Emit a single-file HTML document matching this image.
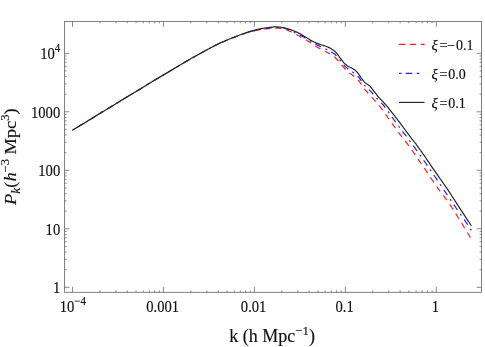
<!DOCTYPE html>
<html><head><meta charset="utf-8"><title>Power spectrum</title>
<style>
html,body{margin:0;padding:0;background:#fff;}
body{width:485px;height:347px;overflow:hidden;font-family:"Liberation Serif",serif;}
text{stroke:#111;stroke-width:0.16px;}
svg{display:block;will-change:transform;font-family:"Liberation Serif",serif;}
</style></head><body>
<svg width="485" height="347" viewBox="0 0 485 347">
<rect width="485" height="347" fill="#fff"/>
<rect x="64.6" y="21.4" width="416.9" height="270.90000000000003" fill="none" stroke="#6a6a6a" stroke-width="0.85"/>
<path d="M72.50 292.30 v-5.40 M72.50 21.40 v5.40 M99.88 292.30 v-1.90 M99.88 21.40 v1.90 M115.89 292.30 v-1.90 M115.89 21.40 v1.90 M127.26 292.30 v-1.90 M127.26 21.40 v1.90 M136.07 292.30 v-1.90 M136.07 21.40 v1.90 M143.27 292.30 v-1.90 M143.27 21.40 v1.90 M149.36 292.30 v-1.90 M149.36 21.40 v1.90 M154.64 292.30 v-1.90 M154.64 21.40 v1.90 M159.29 292.30 v-1.90 M159.29 21.40 v1.90 M163.45 292.30 v-5.40 M163.45 21.40 v5.40 M190.83 292.30 v-1.90 M190.83 21.40 v1.90 M206.84 292.30 v-1.90 M206.84 21.40 v1.90 M218.21 292.30 v-1.90 M218.21 21.40 v1.90 M227.02 292.30 v-1.90 M227.02 21.40 v1.90 M234.22 292.30 v-1.90 M234.22 21.40 v1.90 M240.31 292.30 v-1.90 M240.31 21.40 v1.90 M245.59 292.30 v-1.90 M245.59 21.40 v1.90 M250.24 292.30 v-1.90 M250.24 21.40 v1.90 M254.40 292.30 v-5.40 M254.40 21.40 v5.40 M281.78 292.30 v-1.90 M281.78 21.40 v1.90 M297.79 292.30 v-1.90 M297.79 21.40 v1.90 M309.16 292.30 v-1.90 M309.16 21.40 v1.90 M317.97 292.30 v-1.90 M317.97 21.40 v1.90 M325.17 292.30 v-1.90 M325.17 21.40 v1.90 M331.26 292.30 v-1.90 M331.26 21.40 v1.90 M336.54 292.30 v-1.90 M336.54 21.40 v1.90 M341.19 292.30 v-1.90 M341.19 21.40 v1.90 M345.35 292.30 v-5.40 M345.35 21.40 v5.40 M372.73 292.30 v-1.90 M372.73 21.40 v1.90 M388.74 292.30 v-1.90 M388.74 21.40 v1.90 M400.11 292.30 v-1.90 M400.11 21.40 v1.90 M408.92 292.30 v-1.90 M408.92 21.40 v1.90 M416.12 292.30 v-1.90 M416.12 21.40 v1.90 M422.21 292.30 v-1.90 M422.21 21.40 v1.90 M427.49 292.30 v-1.90 M427.49 21.40 v1.90 M432.14 292.30 v-1.90 M432.14 21.40 v1.90 M436.30 292.30 v-5.40 M436.30 21.40 v5.40 M64.60 287.30 h4.80 M481.50 287.30 h-4.80 M64.60 269.69 h1.90 M481.50 269.69 h-1.90 M64.60 259.39 h1.90 M481.50 259.39 h-1.90 M64.60 252.08 h1.90 M481.50 252.08 h-1.90 M64.60 246.41 h1.90 M481.50 246.41 h-1.90 M64.60 241.78 h1.90 M481.50 241.78 h-1.90 M64.60 237.86 h1.90 M481.50 237.86 h-1.90 M64.60 234.47 h1.90 M481.50 234.47 h-1.90 M64.60 231.48 h1.90 M481.50 231.48 h-1.90 M64.60 228.80 h4.80 M481.50 228.80 h-4.80 M64.60 211.19 h1.90 M481.50 211.19 h-1.90 M64.60 200.89 h1.90 M481.50 200.89 h-1.90 M64.60 193.58 h1.90 M481.50 193.58 h-1.90 M64.60 187.91 h1.90 M481.50 187.91 h-1.90 M64.60 183.28 h1.90 M481.50 183.28 h-1.90 M64.60 179.36 h1.90 M481.50 179.36 h-1.90 M64.60 175.97 h1.90 M481.50 175.97 h-1.90 M64.60 172.98 h1.90 M481.50 172.98 h-1.90 M64.60 170.30 h4.80 M481.50 170.30 h-4.80 M64.60 152.69 h1.90 M481.50 152.69 h-1.90 M64.60 142.39 h1.90 M481.50 142.39 h-1.90 M64.60 135.08 h1.90 M481.50 135.08 h-1.90 M64.60 129.41 h1.90 M481.50 129.41 h-1.90 M64.60 124.78 h1.90 M481.50 124.78 h-1.90 M64.60 120.86 h1.90 M481.50 120.86 h-1.90 M64.60 117.47 h1.90 M481.50 117.47 h-1.90 M64.60 114.48 h1.90 M481.50 114.48 h-1.90 M64.60 111.80 h4.80 M481.50 111.80 h-4.80 M64.60 94.19 h1.90 M481.50 94.19 h-1.90 M64.60 83.89 h1.90 M481.50 83.89 h-1.90 M64.60 76.58 h1.90 M481.50 76.58 h-1.90 M64.60 70.91 h1.90 M481.50 70.91 h-1.90 M64.60 66.28 h1.90 M481.50 66.28 h-1.90 M64.60 62.36 h1.90 M481.50 62.36 h-1.90 M64.60 58.97 h1.90 M481.50 58.97 h-1.90 M64.60 55.98 h1.90 M481.50 55.98 h-1.90 M64.60 53.30 h4.80 M481.50 53.30 h-4.80" fill="none" stroke="#6a6a6a" stroke-width="0.8"/>
<path d="M72.40 130.30 L74.37 129.09 L76.99 127.48 L80.11 125.57 L83.58 123.44 L87.25 121.18 L90.97 118.90 L94.61 116.67 L98.00 114.60 L101.23 112.63 L104.47 110.66 L107.72 108.68 L110.97 106.71 L114.23 104.73 L117.49 102.75 L120.75 100.78 L124.00 98.80 L127.29 96.80 L130.64 94.76 L134.01 92.71 L137.38 90.66 L140.69 88.65 L143.92 86.68 L147.04 84.79 L150.00 83.00 L152.86 81.28 L155.66 79.59 L158.38 77.95 L161.00 76.38 L163.50 74.89 L165.84 73.48 L168.02 72.18 L170.00 71.00 L171.70 69.99 L173.09 69.16 L174.27 68.46 L175.33 67.84 L176.34 67.24 L177.40 66.62 L178.59 65.92 L180.00 65.10 L181.55 64.18 L183.13 63.25 L184.76 62.27 L186.47 61.25 L188.31 60.17 L190.28 59.03 L192.44 57.81 L194.80 56.50 L197.42 55.06 L200.30 53.46 L203.37 51.77 L206.58 50.03 L209.86 48.27 L213.17 46.55 L216.43 44.91 L219.60 43.40 L222.78 41.97 L226.09 40.56 L229.44 39.19 L232.78 37.88 L236.01 36.65 L239.07 35.51 L241.89 34.49 L244.40 33.60 L246.57 32.87 L248.46 32.29 L250.13 31.84 L251.62 31.48 L252.98 31.18 L254.26 30.92 L255.52 30.67 L256.80 30.40 L258.04 30.13 L259.16 29.91 L260.20 29.72 L261.19 29.55 L262.17 29.40 L263.15 29.27 L264.19 29.13 L265.30 29.00 L266.51 28.86 L267.79 28.73 L269.12 28.60 L270.47 28.48 L271.80 28.38 L273.08 28.29 L274.29 28.23 L275.40 28.20 L276.39 28.19 L277.29 28.20 L278.13 28.23 L278.91 28.27 L279.67 28.35 L280.42 28.44 L281.19 28.56 L282.00 28.70 L282.83 28.87 L283.65 29.06 L284.48 29.27 L285.31 29.51 L286.14 29.77 L286.98 30.05 L287.83 30.36 L288.70 30.70 L289.60 31.08 L290.54 31.51 L291.51 31.98 L292.48 32.46 L293.43 32.95 L294.34 33.43 L295.21 33.89 L296.00 34.30 L296.71 34.67 L297.36 35.02 L297.96 35.35 L298.52 35.66 L299.06 35.97 L299.59 36.27 L300.14 36.58 L300.70 36.90 L301.28 37.22 L301.85 37.54 L302.43 37.86 L303.00 38.18 L303.57 38.50 L304.15 38.83 L304.72 39.16 L305.30 39.50 L305.88 39.85 L306.47 40.20 L307.06 40.55 L307.66 40.91 L308.25 41.28 L308.84 41.65 L309.42 42.02 L310.00 42.40 L310.57 42.79 L311.13 43.19 L311.69 43.60 L312.24 44.01 L312.80 44.42 L313.36 44.83 L313.92 45.22 L314.50 45.60 L315.09 45.96 L315.68 46.31 L316.28 46.65 L316.89 46.99 L317.49 47.32 L318.10 47.64 L318.70 47.97 L319.30 48.30 L319.89 48.63 L320.47 48.96 L321.05 49.28 L321.63 49.61 L322.21 49.93 L322.79 50.25 L323.39 50.58 L324.00 50.90 L324.63 51.23 L325.28 51.55 L325.95 51.88 L326.62 52.20 L327.29 52.52 L327.94 52.85 L328.58 53.17 L329.20 53.50 L329.79 53.82 L330.37 54.12 L330.93 54.42 L331.48 54.72 L332.02 55.03 L332.55 55.36 L333.08 55.71 L333.60 56.10 L334.12 56.53 L334.63 56.98 L335.13 57.47 L335.63 57.97 L336.12 58.48 L336.59 58.99 L337.05 59.50 L337.50 60.00 L337.92 60.48 L338.31 60.96 L338.68 61.43 L339.04 61.91 L339.40 62.39 L339.77 62.88 L340.17 63.38 L340.60 63.90 L341.07 64.45 L341.56 65.02 L342.08 65.61 L342.61 66.21 L343.15 66.80 L343.68 67.39 L344.20 67.96 L344.70 68.50 L345.17 69.02 L345.62 69.51 L346.06 70.00 L346.49 70.47 L346.93 70.93 L347.39 71.39 L347.88 71.84 L348.40 72.30 L348.97 72.75 L349.59 73.21 L350.23 73.65 L350.89 74.09 L351.56 74.53 L352.20 74.96 L352.82 75.38 L353.40 75.80 L353.93 76.20 L354.44 76.57 L354.92 76.92 L355.39 77.28 L355.84 77.64 L356.29 78.02 L356.74 78.44 L357.20 78.90 L357.67 79.42 L358.14 79.98 L358.61 80.58 L359.07 81.21 L359.53 81.83 L359.97 82.45 L360.40 83.04 L360.80 83.60 L361.18 84.13 L361.54 84.65 L361.89 85.16 L362.23 85.65 L362.54 86.12 L362.84 86.58 L363.13 87.00 L363.40 87.40 L363.62 87.74 L363.79 88.01 L363.92 88.23 L364.05 88.44 L364.19 88.67 L364.38 88.94 L364.64 89.27 L365.00 89.70 L365.46 90.23 L366.01 90.85 L366.63 91.52 L367.29 92.24 L367.98 92.99 L368.67 93.74 L369.35 94.49 L370.00 95.20 L370.62 95.89 L371.25 96.59 L371.88 97.28 L372.50 97.97 L373.12 98.67 L373.75 99.38 L374.38 100.08 L375.00 100.80 L375.62 101.52 L376.25 102.23 L376.88 102.95 L377.50 103.67 L378.12 104.40 L378.75 105.15 L379.38 105.91 L380.00 106.70 L380.62 107.51 L381.25 108.35 L381.88 109.21 L382.50 110.08 L383.12 110.96 L383.75 111.84 L384.38 112.73 L385.00 113.60 L385.62 114.47 L386.25 115.35 L386.88 116.22 L387.50 117.10 L388.12 117.98 L388.75 118.85 L389.38 119.73 L390.00 120.60 L390.62 121.47 L391.25 122.33 L391.88 123.20 L392.50 124.06 L393.12 124.92 L393.75 125.78 L394.38 126.64 L395.00 127.50 L395.62 128.35 L396.24 129.20 L396.85 130.05 L397.47 130.89 L398.09 131.74 L398.71 132.59 L399.35 133.44 L400.00 134.30 L400.66 135.16 L401.32 136.00 L402.00 136.84 L402.68 137.69 L403.36 138.56 L404.06 139.44 L404.78 140.35 L405.50 141.30 L406.24 142.28 L406.99 143.29 L407.75 144.32 L408.53 145.37 L409.31 146.44 L410.10 147.54 L410.90 148.66 L411.70 149.80 L412.51 150.97 L413.34 152.19 L414.18 153.43 L415.02 154.69 L415.87 155.96 L416.72 157.22 L417.56 158.47 L418.40 159.70 L419.23 160.90 L420.05 162.09 L420.88 163.27 L421.70 164.44 L422.52 165.62 L423.35 166.80 L424.17 167.99 L425.00 169.20 L425.83 170.42 L426.65 171.65 L427.47 172.88 L428.29 174.12 L429.12 175.37 L429.97 176.63 L430.82 177.91 L431.70 179.20 L432.61 180.53 L433.56 181.91 L434.52 183.32 L435.50 184.74 L436.47 186.13 L437.42 187.49 L438.33 188.79 L439.20 190.00 L440.00 191.09 L440.73 192.06 L441.42 192.95 L442.10 193.81 L442.78 194.68 L443.49 195.61 L444.26 196.63 L445.10 197.80 L446.02 199.11 L447.00 200.51 L448.03 202.00 L449.09 203.55 L450.17 205.14 L451.26 206.76 L452.34 208.39 L453.40 210.00 L454.44 211.61 L455.49 213.25 L456.53 214.90 L457.58 216.58 L458.63 218.26 L459.68 219.97 L460.74 221.68 L461.80 223.40 L462.92 225.23 L464.14 227.23 L465.39 229.29 L466.62 231.34 L467.80 233.28 L468.85 235.03 L469.74 236.50 L470.40 237.60" fill="none" stroke="#ff2020" stroke-width="1.2" stroke-dasharray="6.0 5.06" stroke-dashoffset="3.11"/>
<path d="M72.40 130.30 L74.37 129.09 L76.99 127.48 L80.11 125.57 L83.58 123.44 L87.25 121.18 L90.97 118.90 L94.61 116.67 L98.00 114.60 L101.23 112.63 L104.47 110.66 L107.72 108.68 L110.97 106.71 L114.23 104.73 L117.49 102.75 L120.75 100.78 L124.00 98.80 L127.29 96.80 L130.64 94.76 L134.01 92.71 L137.38 90.66 L140.69 88.65 L143.92 86.68 L147.04 84.79 L150.00 83.00 L152.86 81.28 L155.66 79.59 L158.38 77.95 L161.00 76.38 L163.50 74.89 L165.84 73.48 L168.02 72.18 L170.00 71.00 L171.70 69.99 L173.09 69.16 L174.27 68.46 L175.33 67.84 L176.34 67.24 L177.40 66.62 L178.59 65.92 L180.00 65.10 L181.55 64.19 L183.13 63.25 L184.76 62.27 L186.47 61.26 L188.31 60.18 L190.28 59.04 L192.44 57.81 L194.80 56.50 L197.42 55.05 L200.30 53.45 L203.37 51.74 L206.58 49.98 L209.86 48.21 L213.17 46.48 L216.43 44.82 L219.60 43.30 L222.78 41.86 L226.09 40.44 L229.44 39.06 L232.78 37.73 L236.01 36.48 L239.07 35.33 L241.89 34.30 L244.40 33.40 L246.57 32.66 L248.46 32.07 L250.13 31.60 L251.62 31.23 L252.98 30.92 L254.26 30.65 L255.52 30.39 L256.80 30.10 L258.04 29.81 L259.16 29.57 L260.20 29.35 L261.19 29.16 L262.17 28.98 L263.15 28.82 L264.19 28.66 L265.30 28.50 L266.51 28.34 L267.79 28.17 L269.12 28.02 L270.47 27.87 L271.80 27.74 L273.08 27.63 L274.29 27.55 L275.40 27.50 L276.39 27.48 L277.29 27.49 L278.13 27.52 L278.91 27.58 L279.67 27.66 L280.42 27.76 L281.19 27.87 L282.00 28.00 L282.81 28.13 L283.58 28.26 L284.34 28.40 L285.11 28.56 L285.91 28.76 L286.76 29.01 L287.68 29.32 L288.70 29.70 L289.86 30.19 L291.15 30.79 L292.54 31.46 L293.96 32.18 L295.38 32.91 L296.74 33.61 L298.00 34.25 L299.10 34.80 L300.05 35.26 L300.88 35.67 L301.63 36.03 L302.32 36.36 L302.96 36.67 L303.57 36.97 L304.18 37.28 L304.80 37.60 L305.42 37.93 L305.99 38.24 L306.54 38.55 L307.08 38.85 L307.61 39.16 L308.15 39.48 L308.71 39.83 L309.30 40.20 L309.92 40.61 L310.55 41.06 L311.19 41.53 L311.84 42.01 L312.50 42.49 L313.17 42.96 L313.84 43.40 L314.50 43.80 L315.17 44.16 L315.84 44.48 L316.52 44.79 L317.21 45.07 L317.89 45.35 L318.57 45.63 L319.24 45.91 L319.90 46.20 L320.55 46.50 L321.19 46.79 L321.83 47.08 L322.46 47.38 L323.09 47.67 L323.72 47.97 L324.36 48.28 L325.00 48.60 L325.65 48.93 L326.29 49.26 L326.94 49.59 L327.59 49.94 L328.25 50.29 L328.90 50.65 L329.55 51.02 L330.20 51.40 L330.86 51.79 L331.53 52.18 L332.21 52.58 L332.88 52.99 L333.55 53.42 L334.19 53.86 L334.81 54.32 L335.40 54.80 L335.95 55.31 L336.47 55.83 L336.96 56.38 L337.43 56.94 L337.89 57.52 L338.36 58.11 L338.82 58.70 L339.30 59.30 L339.79 59.92 L340.27 60.56 L340.75 61.22 L341.24 61.89 L341.72 62.55 L342.21 63.20 L342.70 63.82 L343.20 64.40 L343.70 64.95 L344.20 65.47 L344.70 65.98 L345.20 66.46 L345.71 66.93 L346.23 67.40 L346.76 67.85 L347.30 68.30 L347.86 68.74 L348.43 69.16 L349.01 69.56 L349.60 69.96 L350.20 70.36 L350.80 70.76 L351.40 71.17 L352.00 71.60 L352.61 72.04 L353.24 72.48 L353.88 72.93 L354.51 73.38 L355.14 73.84 L355.75 74.32 L356.34 74.80 L356.90 75.30 L357.42 75.81 L357.92 76.33 L358.39 76.87 L358.85 77.41 L359.29 77.97 L359.73 78.53 L360.16 79.11 L360.60 79.70 L361.02 80.31 L361.43 80.95 L361.82 81.61 L362.21 82.28 L362.61 82.94 L363.01 83.59 L363.44 84.22 L363.90 84.80 L364.38 85.33 L364.89 85.82 L365.40 86.28 L365.94 86.72 L366.48 87.17 L367.05 87.64 L367.62 88.14 L368.20 88.70 L368.80 89.31 L369.42 89.96 L370.05 90.63 L370.70 91.33 L371.35 92.05 L372.01 92.77 L372.66 93.49 L373.30 94.20 L373.94 94.91 L374.58 95.64 L375.22 96.38 L375.86 97.12 L376.49 97.86 L377.13 98.59 L377.77 99.30 L378.40 100.00 L379.03 100.67 L379.66 101.30 L380.28 101.92 L380.91 102.54 L381.53 103.16 L382.15 103.80 L382.78 104.48 L383.40 105.20 L384.02 105.97 L384.65 106.78 L385.27 107.62 L385.90 108.49 L386.52 109.37 L387.15 110.25 L387.77 111.13 L388.40 112.00 L389.02 112.87 L389.65 113.74 L390.27 114.61 L390.90 115.49 L391.52 116.37 L392.15 117.25 L392.77 118.13 L393.40 119.00 L394.02 119.87 L394.65 120.74 L395.27 121.60 L395.90 122.47 L396.52 123.33 L397.15 124.19 L397.77 125.05 L398.40 125.90 L399.04 126.76 L399.69 127.65 L400.35 128.54 L401.01 129.43 L401.65 130.29 L402.27 131.11 L402.86 131.89 L403.40 132.60 L403.87 133.20 L404.26 133.69 L404.61 134.10 L404.94 134.49 L405.29 134.90 L405.68 135.38 L406.14 135.96 L406.70 136.70 L407.38 137.61 L408.14 138.64 L408.97 139.78 L409.84 140.99 L410.75 142.23 L411.65 143.49 L412.54 144.72 L413.40 145.90 L414.23 147.04 L415.05 148.17 L415.88 149.29 L416.70 150.42 L417.52 151.55 L418.35 152.69 L419.17 153.83 L420.00 155.00 L420.83 156.18 L421.67 157.38 L422.51 158.59 L423.34 159.81 L424.18 161.04 L425.02 162.26 L425.86 163.48 L426.70 164.70 L427.54 165.91 L428.38 167.12 L429.22 168.33 L430.06 169.54 L430.89 170.76 L431.73 171.97 L432.57 173.18 L433.40 174.40 L434.22 175.60 L435.01 176.78 L435.80 177.95 L436.59 179.12 L437.40 180.32 L438.23 181.56 L439.09 182.85 L440.00 184.20 L440.96 185.63 L441.97 187.14 L443.02 188.70 L444.09 190.29 L445.17 191.91 L446.26 193.53 L447.34 195.13 L448.40 196.70 L449.45 198.25 L450.50 199.80 L451.55 201.34 L452.61 202.89 L453.66 204.43 L454.71 205.96 L455.75 207.48 L456.80 209.00 L457.86 210.52 L458.93 212.06 L460.01 213.60 L461.09 215.12 L462.15 216.63 L463.18 218.10 L464.16 219.53 L465.10 220.90 L466.02 222.27 L466.94 223.67 L467.85 225.06 L468.72 226.39 L469.52 227.64 L470.24 228.75 L470.84 229.68 L471.30 230.40" fill="none" stroke="#2020ff" stroke-width="1.2" stroke-dasharray="6.4 4.75 2.0 4.75" stroke-dashoffset="13.11"/>
<path d="M72.40 130.30 L74.37 129.09 L76.99 127.48 L80.11 125.57 L83.58 123.44 L87.25 121.18 L90.97 118.90 L94.61 116.67 L98.00 114.60 L101.23 112.63 L104.47 110.66 L107.72 108.68 L110.97 106.71 L114.23 104.73 L117.49 102.75 L120.75 100.78 L124.00 98.80 L127.29 96.80 L130.64 94.76 L134.01 92.71 L137.38 90.66 L140.69 88.65 L143.92 86.68 L147.04 84.79 L150.00 83.00 L152.86 81.28 L155.66 79.59 L158.38 77.95 L161.00 76.38 L163.50 74.89 L165.84 73.48 L168.02 72.18 L170.00 71.00 L171.70 69.99 L173.09 69.16 L174.27 68.46 L175.33 67.84 L176.34 67.24 L177.40 66.62 L178.59 65.92 L180.00 65.10 L181.55 64.19 L183.13 63.25 L184.76 62.27 L186.47 61.26 L188.31 60.18 L190.28 59.04 L192.44 57.81 L194.80 56.50 L197.42 55.05 L200.30 53.45 L203.37 51.75 L206.58 49.99 L209.86 48.22 L213.17 46.48 L216.43 44.83 L219.60 43.30 L222.78 41.85 L226.09 40.43 L229.44 39.04 L232.78 37.71 L236.01 36.45 L239.07 35.28 L241.89 34.23 L244.40 33.30 L246.59 32.52 L248.54 31.87 L250.27 31.34 L251.83 30.89 L253.22 30.52 L254.50 30.19 L255.68 29.90 L256.80 29.60 L257.78 29.34 L258.57 29.14 L259.21 28.99 L259.76 28.88 L260.26 28.79 L260.76 28.71 L261.33 28.61 L262.00 28.50 L262.77 28.37 L263.57 28.23 L264.40 28.10 L265.26 27.97 L266.12 27.84 L266.99 27.72 L267.85 27.61 L268.70 27.50 L269.54 27.40 L270.38 27.30 L271.22 27.20 L272.06 27.11 L272.89 27.03 L273.73 26.96 L274.57 26.92 L275.40 26.90 L276.23 26.90 L277.05 26.92 L277.88 26.96 L278.70 27.01 L279.52 27.08 L280.35 27.17 L281.17 27.28 L282.00 27.40 L282.83 27.54 L283.65 27.69 L284.48 27.87 L285.31 28.06 L286.14 28.26 L286.98 28.49 L287.83 28.74 L288.70 29.00 L289.60 29.29 L290.53 29.62 L291.49 29.97 L292.44 30.33 L293.39 30.70 L294.31 31.08 L295.18 31.45 L296.00 31.80 L296.75 32.14 L297.45 32.47 L298.10 32.80 L298.73 33.13 L299.34 33.46 L299.95 33.80 L300.56 34.14 L301.20 34.50 L301.85 34.87 L302.50 35.25 L303.15 35.63 L303.80 36.03 L304.45 36.42 L305.10 36.82 L305.75 37.21 L306.40 37.60 L307.05 37.99 L307.70 38.39 L308.35 38.79 L309.01 39.19 L309.66 39.59 L310.31 39.97 L310.95 40.35 L311.60 40.70 L312.24 41.04 L312.88 41.36 L313.52 41.67 L314.15 41.98 L314.78 42.27 L315.42 42.55 L316.06 42.83 L316.70 43.10 L317.35 43.36 L317.99 43.61 L318.64 43.86 L319.29 44.09 L319.95 44.32 L320.60 44.55 L321.25 44.78 L321.90 45.00 L322.56 45.22 L323.22 45.43 L323.89 45.63 L324.56 45.84 L325.22 46.04 L325.87 46.25 L326.50 46.47 L327.10 46.70 L327.67 46.94 L328.22 47.17 L328.75 47.41 L329.27 47.66 L329.78 47.92 L330.28 48.20 L330.79 48.49 L331.30 48.80 L331.83 49.14 L332.37 49.50 L332.91 49.89 L333.45 50.29 L333.98 50.69 L334.48 51.10 L334.96 51.51 L335.40 51.90 L335.79 52.28 L336.14 52.65 L336.46 53.01 L336.76 53.38 L337.05 53.76 L337.35 54.15 L337.66 54.56 L338.00 55.00 L338.36 55.47 L338.74 55.98 L339.13 56.51 L339.52 57.05 L339.92 57.60 L340.31 58.15 L340.71 58.68 L341.10 59.20 L341.48 59.71 L341.85 60.21 L342.21 60.71 L342.58 61.21 L342.96 61.69 L343.35 62.17 L343.76 62.64 L344.20 63.10 L344.67 63.55 L345.17 64.00 L345.70 64.43 L346.24 64.86 L346.78 65.28 L347.33 65.67 L347.87 66.05 L348.40 66.40 L348.92 66.72 L349.46 67.01 L349.99 67.28 L350.52 67.53 L351.04 67.77 L351.55 68.00 L352.04 68.25 L352.50 68.50 L352.94 68.75 L353.35 68.99 L353.74 69.22 L354.11 69.46 L354.48 69.70 L354.85 69.97 L355.22 70.27 L355.60 70.60 L355.99 70.97 L356.37 71.37 L356.76 71.79 L357.14 72.24 L357.53 72.70 L357.92 73.19 L358.31 73.69 L358.70 74.20 L359.10 74.74 L359.50 75.32 L359.90 75.93 L360.30 76.55 L360.70 77.17 L361.10 77.78 L361.50 78.36 L361.90 78.90 L362.29 79.41 L362.68 79.91 L363.07 80.39 L363.46 80.85 L363.84 81.29 L364.23 81.72 L364.61 82.12 L365.00 82.50 L365.39 82.85 L365.79 83.17 L366.18 83.46 L366.58 83.74 L366.97 84.00 L367.36 84.26 L367.74 84.53 L368.10 84.80 L368.45 85.08 L368.80 85.34 L369.13 85.61 L369.46 85.87 L369.78 86.14 L370.10 86.41 L370.40 86.70 L370.70 87.00 L370.96 87.29 L371.18 87.56 L371.37 87.82 L371.56 88.09 L371.78 88.41 L372.04 88.78 L372.37 89.24 L372.80 89.80 L373.34 90.49 L373.97 91.32 L374.67 92.23 L375.42 93.20 L376.19 94.19 L376.96 95.16 L377.70 96.07 L378.40 96.90 L379.05 97.64 L379.69 98.32 L380.32 98.96 L380.94 99.58 L381.55 100.18 L382.16 100.80 L382.78 101.43 L383.40 102.10 L384.02 102.80 L384.65 103.51 L385.27 104.24 L385.90 104.97 L386.52 105.72 L387.15 106.47 L387.77 107.23 L388.40 108.00 L389.02 108.78 L389.65 109.56 L390.27 110.36 L390.90 111.17 L391.52 111.98 L392.15 112.79 L392.77 113.60 L393.40 114.40 L394.02 115.20 L394.65 115.99 L395.27 116.79 L395.90 117.58 L396.52 118.38 L397.15 119.18 L397.77 119.99 L398.40 120.80 L399.02 121.62 L399.65 122.45 L400.27 123.29 L400.90 124.12 L401.52 124.97 L402.15 125.81 L402.77 126.66 L403.40 127.50 L404.02 128.34 L404.63 129.18 L405.24 130.01 L405.85 130.85 L406.47 131.69 L407.09 132.55 L407.74 133.42 L408.40 134.30 L409.11 135.23 L409.87 136.23 L410.66 137.25 L411.46 138.28 L412.23 139.27 L412.96 140.21 L413.63 141.06 L414.20 141.80 L414.63 142.35 L414.92 142.70 L415.12 142.94 L415.29 143.14 L415.48 143.37 L415.74 143.70 L416.13 144.22 L416.70 145.00 L417.46 146.05 L418.36 147.31 L419.38 148.73 L420.48 150.27 L421.63 151.88 L422.78 153.52 L423.92 155.14 L425.00 156.70 L426.05 158.23 L427.10 159.79 L428.15 161.36 L429.20 162.95 L430.25 164.54 L431.30 166.11 L432.35 167.67 L433.40 169.20 L434.45 170.71 L435.50 172.20 L436.55 173.68 L437.61 175.15 L438.65 176.61 L439.68 178.05 L440.70 179.48 L441.70 180.90 L442.69 182.31 L443.67 183.72 L444.64 185.12 L445.60 186.51 L446.54 187.87 L447.46 189.21 L448.34 190.52 L449.20 191.80 L450.00 193.01 L450.73 194.14 L451.42 195.22 L452.10 196.29 L452.78 197.37 L453.49 198.49 L454.26 199.69 L455.10 201.00 L456.02 202.42 L457.01 203.94 L458.05 205.53 L459.12 207.16 L460.20 208.82 L461.29 210.48 L462.36 212.11 L463.40 213.70 L464.47 215.33 L465.61 217.07 L466.77 218.85 L467.92 220.59 L469.00 222.24 L469.97 223.72 L470.78 224.96 L471.40 225.90" fill="none" stroke="#262626" stroke-width="1.2"/>
<path d="M398.9 44.4 H424.6" stroke="#ff2020" stroke-width="1.15" stroke-dasharray="6.4 4.5" fill="none"/>
<path d="M399 73.4 H419.2" stroke="#2020ff" stroke-width="1.15" stroke-dasharray="2.5 4.3 6.5 4.4" fill="none"/>
<path d="M398.9 102.4 H424.5" stroke="#262626" stroke-width="1.15" fill="none"/>
<text x="431.6" y="49.7" font-size="14" fill="#111"><tspan font-style="italic" font-size="14.6">ξ</tspan><tspan dx="1.6">=−</tspan><tspan dx="0.8">0.1</tspan></text>
<text x="431.6" y="78.8" font-size="14" fill="#111"><tspan font-style="italic" font-size="14.6">ξ</tspan><tspan dx="1.6">=</tspan><tspan dx="0.8">0.0</tspan></text>
<text x="431.6" y="107.8" font-size="14" fill="#111"><tspan font-style="italic" font-size="14.6">ξ</tspan><tspan dx="1.6">=</tspan><tspan dx="0.8">0.1</tspan></text>
<text transform="translate(60.3,59.1) scale(0.912,1)" font-size="16" text-anchor="end" fill="#111">10<tspan font-size="12" dy="-7.4">4</tspan></text>
<text transform="translate(60.2,117.6) scale(0.912,1)" font-size="16" text-anchor="end" fill="#111">1000</text>
<text transform="translate(60.2,176.1) scale(0.912,1)" font-size="16" text-anchor="end" fill="#111">100</text>
<text transform="translate(60.2,234.6) scale(0.912,1)" font-size="16" text-anchor="end" fill="#111">10</text>
<text transform="translate(60.2,293.1) scale(0.912,1)" font-size="16" text-anchor="end" fill="#111">1</text>
<text transform="translate(72.8,312.2) scale(0.912,1)" font-size="16" text-anchor="middle" fill="#111">10<tspan font-size="12" dy="-7.4">−4</tspan></text>
<text transform="translate(162.6,312.2) scale(0.912,1)" font-size="16" text-anchor="middle" fill="#111">0.001</text>
<text transform="translate(253.6,312.2) scale(0.912,1)" font-size="16" text-anchor="middle" fill="#111">0.01</text>
<text transform="translate(344.6,312.2) scale(0.912,1)" font-size="16" text-anchor="middle" fill="#111">0.1</text>
<text transform="translate(435.5,312.2) scale(0.912,1)" font-size="16" text-anchor="middle" fill="#111">1</text>
<text transform="translate(272.2,342.1) scale(0.968,1)" font-size="18.6" text-anchor="middle" fill="#111">k (h Mpc<tspan font-size="13.4" dy="-6.9">−1</tspan><tspan dy="6.9">)</tspan></text>
<text transform="translate(16.1,156.6) rotate(-90) scale(1,0.93)" font-size="18.4" text-anchor="middle" fill="#111"><tspan font-style="italic">P</tspan><tspan font-style="italic" font-size="13.4" dy="4.6">k</tspan><tspan dy="-4.6">(</tspan><tspan font-style="italic">h</tspan><tspan font-size="12.6" dy="-7.5">−3</tspan><tspan dy="7.5"> Mpc</tspan><tspan font-size="12.6" dy="-7.5">3</tspan><tspan dy="7.5">)</tspan></text>
</svg>
</body></html>
